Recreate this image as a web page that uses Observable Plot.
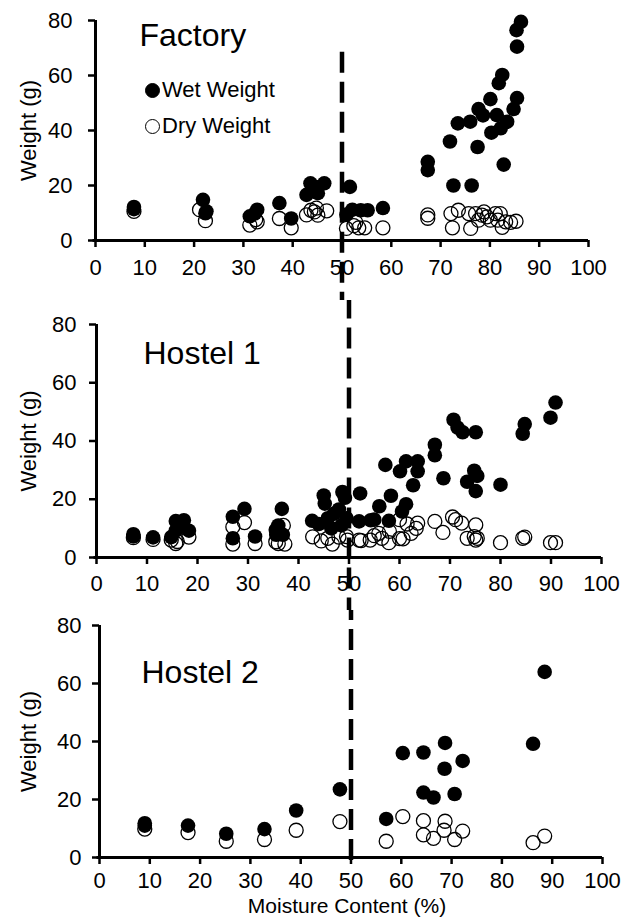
<!DOCTYPE html>
<html><head><meta charset="utf-8">
<script src="https://cdn.jsdelivr.net/npm/d3@7"></script>
<script src="https://cdn.jsdelivr.net/npm/@observablehq/plot@0.6"></script>
<style>
body{margin:0;background:#fff;}
#chart{position:relative;width:633px;height:917px;font-family:"Liberation Sans",Arial,sans-serif;color:#000;}
#chart svg{display:block;}
.lg{position:absolute;font-size:22px;line-height:22px;white-space:nowrap;}
.lg span.c{display:inline-block;width:15px;height:15px;border-radius:50%;box-sizing:border-box;vertical-align:-1px;margin-right:2px;}
</style></head><body><div id="chart"></div>
<script>
// ---- data: [moisture %, weight g] ----
const factoryWet = [[7.8,12.2],[7.8,11.4],[21.8,14.8],[22.3,9.9],[22.5,10.6],[31.3,8.8],[32.3,9.8],[32.8,11.2],[37.3,13.6],[39.7,8],[42.8,16.6],[43.6,20.8],[44.5,19.5],[45.1,17.2],[46.4,20.8],[50.9,9.4],[51.6,19.5],[52.1,11.2],[53.8,11],[55.2,11],[58.3,11.8],[67.4,28.6],[67.4,25.6],[71.9,36],[72.6,20],[73.5,42.6],[76,43.2],[76.3,20],[77.5,34],[77.7,47.8],[78.6,45.5],[80.1,51.4],[80.3,39.2],[81.4,45.6],[82.2,40.8],[81.8,57.2],[82.5,60.2],[82.8,27.6],[83.5,43.2],[84.8,47.8],[85.5,51.8],[85.5,70.5],[85.4,76.5],[86.3,79.5]];
const factoryDry = [[7.8,10.6],[21.1,11.2],[22.3,7.2],[31.3,5.6],[32.8,6.8],[32.5,7.6],[37.3,8],[39.7,4.6],[42.8,9.3],[43.7,11],[44.4,10.4],[45.1,9.2],[46.9,10.8],[44.8,11.8],[50.9,4.4],[52.4,5.4],[52.8,6.6],[53.4,4.6],[54.6,4.6],[58.3,4.6],[67.4,9.3],[67.4,8.1],[72.1,9.8],[72.4,4.6],[73.6,11],[75.7,9.8],[76.1,4.4],[77.1,9.8],[77.7,7.4],[78.4,9.2],[79.4,8.6],[80.1,7.4],[81.1,9.8],[81.6,7.4],[82.1,9.8],[82.5,4.8],[83.2,6.8],[84.2,6.6],[85.3,7],[78.8,10.4]];
const hostel1Wet = [[7.3,8],[7.3,7.2],[11.2,6.9],[14.8,7],[15.7,12.5],[15.7,9.2],[16.5,11],[17.3,12.8],[18.3,9.2],[27,14],[27,6.6],[29.3,16.7],[31.4,7.2],[35.5,9.5],[36,11],[36.7,16.7],[36.9,7.8],[35.6,7.8],[42.7,12.6],[44,11.5],[45,21.3],[45.2,18.5],[45.8,13.5],[46.5,10],[47,15],[48,16.5],[48.7,22.5],[49.2,20.5],[49.5,13.5],[48.5,11],[52.2,22],[52,12.4],[54.3,12.8],[55,13],[56,17.6],[57.2,31.8],[58.3,21.2],[57.9,12.6],[60.1,29.6],[60.5,15.8],[61.3,18.3],[61.3,33],[62.7,24.8],[63.6,33],[63.6,29.6],[67,38.7],[67,35.1],[68.7,27.2],[70.7,47.3],[71.5,44.6],[72.5,43],[75.1,43],[73.4,26],[74.8,29.8],[75.4,28],[75.1,22.8],[80,25],[84.4,42.5],[84.8,45.8],[89.9,48],[90.9,53.2]];
const hostel1Dry = [[7.3,6.8],[11.2,6.2],[14.8,6],[15.7,4.8],[16,5.5],[18.3,7],[27,10.5],[27,4.6],[29.3,12],[31.4,4.8],[35.5,5.4],[36,4.8],[37,11],[37.3,4.6],[42.8,7.1],[44.5,5.7],[45.8,6.6],[46.7,4.6],[48,7],[49.7,6],[49.5,7.2],[52,6],[52.4,5.8],[54.2,6],[55.9,8.3],[56.5,6.6],[57.9,5.1],[55,7.5],[60,6.5],[60.7,6.4],[61.5,11.5],[62.3,8.3],[63.3,10],[63.6,11.8],[60,13],[58,9],[67,12.4],[68.6,8.6],[70.5,13.9],[71.1,13],[72.3,11.8],[75.1,11.2],[73.4,6.6],[74.8,7.2],[75.1,6],[75.4,6.6],[80,5.1],[84.4,6.6],[84.8,7],[89.9,5.1],[90.9,5.1]];
const hostel2Wet = [[9,11.8],[9,11],[17.6,11],[25.2,8.2],[32.8,9.8],[39.1,16.2],[47.8,23.5],[57,13.3],[60.3,36],[64.4,36.2],[68.7,39.5],[68.6,30.6],[72.2,33.3],[64.4,22.4],[66.4,20.7],[70.6,21.9],[86.2,39.2],[88.5,64]];
const hostel2Dry = [[9,9.8],[17.6,8.6],[25.2,5.6],[32.8,6.2],[39.1,9.4],[47.8,12.4],[57,5.6],[60.3,14.1],[64.4,12.7],[64.4,7.8],[66.4,6.6],[68.7,12.5],[68.5,9.4],[70.6,6.2],[72.2,9.1],[86.2,5.1],[88.5,7.4]];
const panelTitles = ["Factory", "Hostel 1", "Hostel 2"];
const seriesNames = ["Wet Weight", "Dry Weight"];
const xTicks = [0,10,20,30,40,50,60,70,80,90,100];
const yTicks = [0,20,40,60,80];
const threshold = 50;
const yLabel = "Weight (g)";
const xLabel = "Moisture Content (%)";

const toRows = a => a.map(([x,y]) => ({x, y}));
const layouts = [
  {wet: factoryWet, dry: factoryDry, height: 300, mt: 20, mb: 60, ml: 95, mr: 45, dashTop: 68.5, dashBottom: -40, tdx: 44, tdy: 3, pad: 16, xpad: 12},
  {wet: hostel1Wet, dry: hostel1Dry, height: 310, mt: 24, mb: 53, ml: 96, mr: 32, dashTop: 120, dashBottom: -40, tdx: 47, tdy: 17, pad: 13, xpad: 11},
  {wet: hostel2Wet, dry: hostel2Dry, height: 307, mt: 15, mb: 60, ml: 99, mr: 31, dashTop: 120, dashBottom: -2.5, tdx: 42, tdy: 35, pad: 11, xpad: 8}
];
const root = document.getElementById("chart");
layouts.forEach((L, i) => {
  const marks = [
    Plot.dot(toRows(L.dry), {x: "x", y: "y", r: 7, fill: "none", stroke: "#000", strokeWidth: 1.3}),
    Plot.dot(toRows(L.wet), {x: "x", y: "y", r: 7.3, fill: "#000", stroke: "none"}),
    Plot.ruleX([{x: threshold, y1: L.dashTop, y2: L.dashBottom}], {x: "x", y1: "y1", y2: "y2", stroke: "#000", strokeWidth: 4.5, strokeDasharray: "21,9"}),
    Plot.ruleX([0], {y1: 0, y2: yTicks[yTicks.length-1], stroke: "#000", strokeWidth: 3}),
    Plot.ruleY([0], {x1: -0.5, x2: xTicks[xTicks.length-1], stroke: "#000", strokeWidth: 3}),
    Plot.axisX({ticks: xTicks, tickSize: 7, tickPadding: L.xpad, strokeWidth: 2.5, label: null, fontSize: 22}),
    Plot.axisY({ticks: yTicks, tickSize: 7, tickPadding: L.pad, strokeWidth: 2.5, label: null, fontSize: 22}),
    Plot.text([yLabel], {frameAnchor: "left", dx: -L.ml + 28, rotate: -90, textAnchor: "middle", lineAnchor: "middle", fontSize: 22}),
    Plot.text([panelTitles[i]], {frameAnchor: "top-left", dx: L.tdx, dy: L.tdy, textAnchor: "start", lineAnchor: "top", fontSize: 32})
  ];
  if (i === 2) marks.push(Plot.text([xLabel], {frameAnchor: "bottom", dx: -4, dy: 49, textAnchor: "middle", lineAnchor: "middle", fontSize: 21}));
  const p = Plot.plot({
    width: 633, height: L.height,
    marginTop: L.mt, marginBottom: L.mb, marginLeft: L.ml, marginRight: L.mr,
    style: {fontFamily: "'Liberation Sans', Arial, sans-serif", fontSize: "22px", color: "#000", background: "#fff"},
    x: {domain: [xTicks[0], xTicks[xTicks.length-1]]},
    y: {domain: [yTicks[0], yTicks[yTicks.length-1]]},
    marks
  });
  root.appendChild(p);
});
// legend inside the Factory panel
const lg = [{name: seriesNames[0], fill: "#000", top: 79}, {name: seriesNames[1], fill: "none", top: 115}];
lg.forEach(d => {
  const el = document.createElement("div");
  el.className = "lg";
  el.style.left = "145px"; el.style.top = d.top + "px";
  el.innerHTML = `<span class="c" style="background:${d.fill === "none" ? "transparent" : "#000"};border:1.3px solid #000"></span>${d.name}`;
  root.appendChild(el);
});
</script></body></html>
